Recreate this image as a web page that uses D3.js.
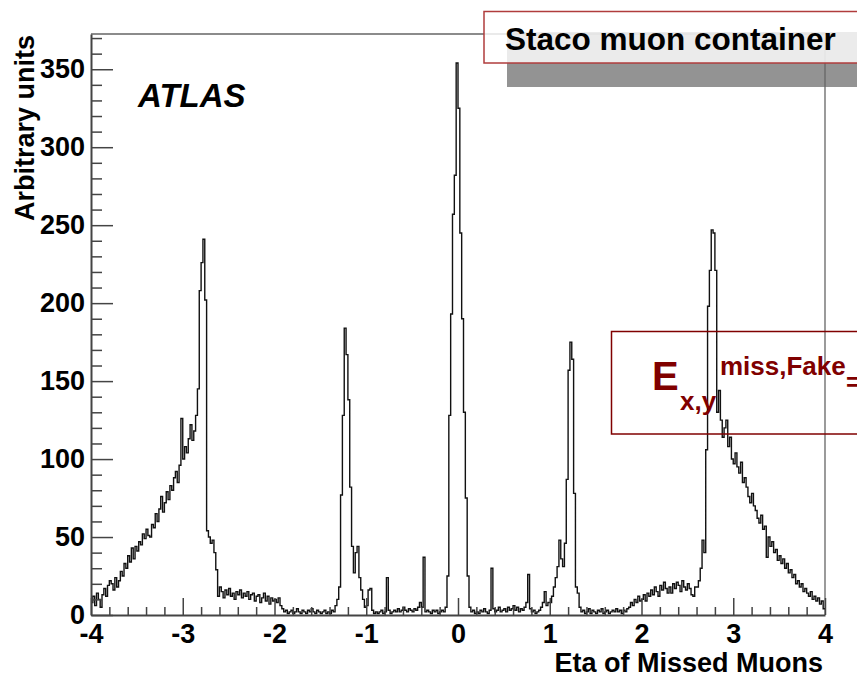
<!DOCTYPE html>
<html>
<head>
<meta charset="utf-8">
<script src="https://cdn.jsdelivr.net/npm/d3@7"></script>
<style>
  html, body { margin: 0; padding: 0; background: #fff; }
  svg { display: block; font-family: "Liberation Sans", Arial, Helvetica, sans-serif; }
</style>
</head>
<body>
<svg id="chart" width="857" height="677"></svg>
<script>
// ---- Data: histogram counts, bins of 0.02 in eta from -4 to 4 ----
const countsM4 = [8,12,6,14,10,5,13,17,12,19, 22,20,16,24,18,22,28,25,33,30, 38,34,43,36,44,41,47,45,52,49, 55,51,50,58,56,65,60,68,76,66, 72,79,74,83,80,88,92,85,96,126];
const countsM3 = [100,108,104,113,122,112,118,128,145,208, 226,241,202,54,50,46,48,40,29,12, 18,15,11,16,13,17,12,14,10,15, 13,16,11,14,12,15,10,13,14,9, 12,13,8,11,14,9,12,7,11,9];
const countsM2 = [10,8,11,6,4,2,3,1,2,3, 1,2,4,2,1,3,2,1,3,2, 4,2,1,3,2,1,2,3,1,2, 1,3,2,6,10,18,77,128,184,167, 138,82,44,27,40,44,24,16,10,5];
const countsM1 = [6,16,17,3,1,2,1,2,3,1, 2,24,3,1,2,3,2,4,2,3, 5,3,2,4,3,2,4,3,5,8, 5,37,2,3,2,1,3,2,3,1, 2,3,2,5,25,128,193,257,282,354];
const countsP0 = [325,245,190,130,75,25,5,2,3,1, 2,1,3,2,4,2,1,3,30,4, 2,3,5,2,3,4,2,5,3,4, 6,3,5,2,4,3,5,8,26,4, 2,3,1,2,3,5,8,15,6,8];
const countsP1 = [8,12,18,24,31,48,36,31,46,87, 157,175,164,78,18,14,5,2,3,1, 2,4,1,3,2,1,3,2,4,1, 2,3,1,2,3,2,4,2,3,1, 3,2,4,5,8,6,10,8,12,9];
const countsP2 = [10,13,9,14,12,16,13,18,15,12, 19,16,21,17,14,18,14,20,17,21, 19,15,22,18,16,20,17,13,12,18, 18,22,30,48,40,106,198,221,247,245, 221,130,144,125,114,120,125,108,114,100];
const countsP3 = [97,104,95,91,98,85,88,82,76,72, 78,70,67,62,59,64,55,57,37,50, 44,47,40,42,35,38,33,36,30,33, 27,29,24,26,20,22,18,20,15,17, 14,12,15,10,12,9,11,7,9,4];

const etaRange = [-4, 4];
const xTickValues = [-4, -3, -2, -1, 0, 1, 2, 3, 4];
const yTickValues = [0, 50, 100, 150, 200, 250, 300, 350];
const yMax = 372.6;

const xTitle = "Eta of Missed Muons";
const yTitle = "Arbitrary units";
const atlasLabel = "ATLAS";
const containerLabel = "Staco muon container";

// ---- Build ----
const counts = [].concat(countsM4, countsM3, countsM2, countsM1, countsP0, countsP1, countsP2, countsP3);
const nBins = counts.length;
const bw = (etaRange[1] - etaRange[0]) / nBins;

const svg = d3.select("#chart");
const x = d3.scaleLinear().domain(etaRange).range([91, 825]);
const y = d3.scaleLinear().domain([0, yMax]).range([615, 34]);

const axisColor = "#444";

// Shadow of the title pave (behind everything)
svg.append("rect").attr("x", 507).attr("y", 32).attr("width", 380).attr("height", 55)
  .attr("fill", "#939393");

// Frame top/right
svg.append("path")
  .attr("d", `M${x(etaRange[0])},${y(yMax)}H${x(etaRange[1])}V${y(0)}`)
  .attr("fill", "none").attr("stroke", "#666").attr("stroke-width", 1.3);

// Histogram
const pts = counts.map((v, i) => [etaRange[0] + i * bw, v]);
pts.push([etaRange[1], counts[nBins - 1]]);
const line = d3.line().x(d => x(d[0])).y(d => y(d[1])).curve(d3.curveStepAfter);
svg.append("path")
  .attr("d", line(pts))
  .attr("fill", "none").attr("stroke", "#111").attr("stroke-width", 1.4);

// Y axis minor ticks
const yMinor = d3.range(0, yMax, 10).filter(v => v % 50 !== 0);
svg.append("g").attr("transform", `translate(${x(etaRange[0])},0)`)
  .call(d3.axisLeft(y).tickValues(yMinor).tickSize(-11).tickSizeOuter(0).tickFormat(""))
  .call(g => g.select(".domain").remove())
  .call(g => g.selectAll("line").attr("stroke", axisColor).attr("stroke-width", 1.5));

// Y axis major
svg.append("g").attr("transform", `translate(${x(etaRange[0])},0)`)
  .call(d3.axisLeft(y).tickValues(yTickValues).tickSize(-22).tickSizeOuter(0).tickPadding(6).tickFormat(d => String(d)))
  .call(g => g.select(".domain").attr("stroke", axisColor).attr("stroke-width", 2))
  .call(g => g.selectAll("line").attr("stroke", axisColor).attr("stroke-width", 1.5))
  .call(g => g.selectAll("text").attr("font-size", 27).attr("font-weight", "bold")
    .attr("font-family", "'Liberation Sans', Arial, sans-serif").attr("fill", "#000").attr("dy", "0.32em"));

// X axis minor
const xMinor = d3.range(-4, 4.0001, 0.2).map(v => Math.round(v * 10) / 10).filter(v => !xTickValues.includes(v));
svg.append("g").attr("transform", `translate(0,${y(0)})`)
  .call(d3.axisBottom(x).tickValues(xMinor).tickSize(-8).tickSizeOuter(0).tickFormat(""))
  .call(g => g.select(".domain").remove())
  .call(g => g.selectAll("line").attr("stroke", axisColor).attr("stroke-width", 1.5));

// X axis major
svg.append("g").attr("transform", `translate(0,${y(0)})`)
  .call(d3.axisBottom(x).tickValues(xTickValues).tickSize(-17).tickSizeOuter(0).tickPadding(9).tickFormat(d => String(d)))
  .call(g => g.select(".domain").attr("stroke", axisColor).attr("stroke-width", 2))
  .call(g => g.selectAll("line").attr("stroke", axisColor).attr("stroke-width", 1.5))
  .call(g => g.selectAll("text").attr("font-size", 27).attr("font-weight", "bold")
    .attr("font-family", "'Liberation Sans', Arial, sans-serif").attr("fill", "#000"));

// Axis titles
svg.append("text").attr("x", 823).attr("y", 672).attr("text-anchor", "end")
  .attr("font-size", 27).attr("font-weight", "bold").text(xTitle);
svg.append("text").attr("transform", "translate(34,35) rotate(-90)").attr("text-anchor", "end")
  .attr("font-size", 27).attr("font-weight", "bold").text(yTitle);

// ATLAS label
svg.append("text").attr("x", 138).attr("y", 107)
  .attr("font-size", 33).attr("font-weight", "bold").attr("font-style", "italic").text(atlasLabel);

// Title pave
svg.append("rect").attr("x", 484).attr("y", 11.5).attr("width", 400).attr("height", 51.5)
  .attr("fill", "#fff").attr("fill-opacity", 0.82).attr("stroke", "#b03c3c").attr("stroke-width", 1.5);
svg.append("text").attr("x", 505).attr("y", 50)
  .attr("font-size", 31.5).attr("font-weight", "bold").attr("fill", "#000").text(containerLabel);

// E miss fake pave
const dark = "#800000";
svg.append("rect").attr("x", 611.5).attr("y", 331.5).attr("width", 300).attr("height", 102.5)
  .attr("fill", "none").attr("stroke", dark).attr("stroke-width", 1.5);
svg.append("text").attr("x", 652).attr("y", 390).attr("fill", dark)
  .attr("font-size", 40).attr("font-weight", "bold").text("E");
svg.append("text").attr("x", 680).attr("y", 410).attr("fill", dark)
  .attr("font-size", 26).attr("font-weight", "bold").text("x,y");
svg.append("text").attr("x", 720).attr("y", 375).attr("fill", dark)
  .attr("font-size", 26).attr("font-weight", "bold").text("miss,Fake");
svg.append("text").attr("x", 846).attr("y", 391).attr("fill", dark)
  .attr("font-size", 26).attr("font-weight", "bold").text("=");
</script>
</body>
</html>
